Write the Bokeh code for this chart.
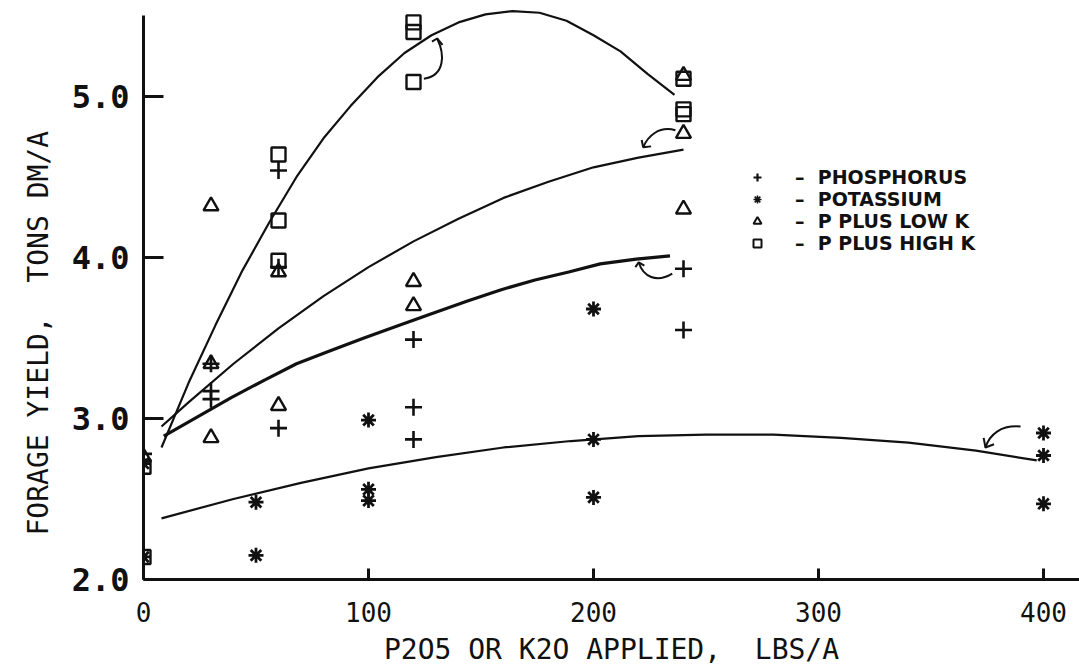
import math
from bokeh.plotting import figure
from bokeh.models import Range1d, FixedTicker, PrintfTickFormatter, Title, Legend, LegendItem
from bokeh.embed import file_html
from bokeh.resources import INLINE

# ---------------- data ----------------
x_ticks = [0, 100, 200, 300, 400]
y_ticks = [2, 3, 4, 5]

phos_x = [0, 30, 30, 30, 60, 60, 60, 120, 120, 120, 240, 240]
phos_y = [2.78, 3.34, 3.17, 3.12, 4.54, 3.94, 2.94, 3.49, 3.07, 2.87, 3.93, 3.55]

pot_x = [0, 0, 50, 50, 100, 100, 100, 200, 200, 200, 400, 400, 400]
pot_y = [2.72, 2.14, 2.48, 2.15, 2.99, 2.56, 2.49, 3.68, 2.87, 2.51, 2.91, 2.77, 2.47]

lowk_x = [0, 30, 30, 30, 60, 60, 120, 120, 240, 240, 240]
lowk_y = [2.76, 4.32, 3.34, 2.88, 3.91, 3.08, 3.85, 3.70, 5.13, 4.77, 4.30]

highk_x = [0, 0, 60, 60, 60, 120, 120, 120, 240, 240, 240]
highk_y = [2.70, 2.14, 4.64, 4.23, 3.98, 5.46, 5.40, 5.09, 5.11, 4.92, 4.89]

# fitted response curves
curve_highk_x = [8, 20, 32, 44, 56, 68, 80, 92, 104, 116, 128, 140, 152, 164, 176, 188, 200, 212, 224, 236]
curve_highk_y = [2.82, 3.22, 3.58, 3.92, 4.22, 4.50, 4.74, 4.94, 5.12, 5.27, 5.38, 5.46, 5.51, 5.53, 5.52, 5.47, 5.38, 5.28, 5.14, 5.01]

curve_lowk_x = [8, 20, 40, 60, 80, 100, 120, 140, 160, 180, 200, 220, 240]
curve_lowk_y = [2.95, 3.10, 3.34, 3.56, 3.76, 3.94, 4.10, 4.24, 4.37, 4.47, 4.56, 4.62, 4.67]

curve_phos_x = [9, 24, 39, 54, 68, 83, 98, 114, 128, 144, 159, 174, 189, 203, 219, 234]
curve_phos_y = [2.89, 3.01, 3.13, 3.24, 3.34, 3.42, 3.50, 3.58, 3.65, 3.73, 3.80, 3.86, 3.91, 3.96, 3.99, 4.01]

curve_pot_x = [8, 40, 70, 100, 130, 160, 190, 220, 250, 280, 310, 340, 370, 397]
curve_pot_y = [2.38, 2.50, 2.60, 2.69, 2.76, 2.82, 2.86, 2.89, 2.90, 2.90, 2.88, 2.85, 2.80, 2.74]

labels = ["PHOSPHORUS", "POTASSIUM", "P PLUS LOW K", "P PLUS HIGH K"]

# ---------------- figure ----------------
p = figure(width=1079, height=672, x_range=Range1d(0, 416), y_range=Range1d(2, 5.596),
           output_backend="svg", toolbar_location=None,
           min_border_left=143, min_border_right=0, min_border_top=0, min_border_bottom=93)
p.outline_line_color = None
p.background_fill_color = "white"
p.border_fill_color = "white"
p.xgrid.visible = False
p.ygrid.visible = False

ink = "#111111"
for ax in (p.xaxis[0], p.yaxis[0]):
    ax.axis_line_width = 3
    ax.axis_line_color = ink
    ax.major_tick_line_width = 3
    ax.major_tick_line_color = ink
    ax.minor_tick_line_color = None
    ax.major_tick_out = 0
    ax.major_label_text_color = ink
    ax.major_label_text_font = "DejaVu Sans Mono"

p.xaxis.ticker = FixedTicker(ticks=x_ticks)
p.yaxis.ticker = FixedTicker(ticks=y_ticks)
p.yaxis.formatter = PrintfTickFormatter(format="%.1f")
p.xaxis.major_tick_in = 11
p.yaxis.major_tick_in = 20
p.yaxis.bounds = (2, 5.5)
p.xaxis.major_label_text_font_size = "26px"
p.xaxis.major_label_standoff = 22
p.yaxis.major_label_text_font_size = "32px"
p.yaxis.major_label_text_font_style = "bold"
p.yaxis.major_label_standoff = 14

p.xaxis.axis_label = "P2O5 OR K2O APPLIED,\u00a0 LBS/A"
p.xaxis.axis_label_text_font = "DejaVu Sans Mono"
p.xaxis.axis_label_text_font_size = "28px"
p.xaxis.axis_label_text_font_style = "normal"
p.xaxis.axis_label_text_color = ink
p.xaxis.axis_label_standoff = 8

ytitle = Title(text="FORAGE YIELD,\u00a0 TONS DM/A", align="left", offset=44, standoff=27,
               text_font="DejaVu Sans Mono", text_font_size="28px", text_font_style="normal",
               text_color=ink)
p.add_layout(ytitle, "left")

# curves
p.line(curve_highk_x, curve_highk_y, line_width=2.2, line_color=ink)
p.line(curve_lowk_x, curve_lowk_y, line_width=2.2, line_color=ink)
p.line(curve_phos_x, curve_phos_y, line_width=3.2, line_color=ink)
p.line(curve_pot_x, curve_pot_y, line_width=2.2, line_color=ink)

# points
p.scatter(phos_x, phos_y, marker="cross", size=17, line_width=2.6, line_color=ink)
p.scatter(pot_x, pot_y, marker="asterisk", size=15, line_width=2.8, line_color=ink)
p.scatter(lowk_x, lowk_y, marker="triangle", size=15, line_width=2.4, line_color=ink, fill_color=None)
p.scatter(highk_x, highk_y, marker="square", size=14, line_width=2.4, line_color=ink, fill_color=None)

# legend-key glyphs (a single NaN row so nothing is drawn in the plot area)
nan = [float("nan")]
lg_p = p.scatter(nan, nan, marker="cross", size=13, line_width=2.2, line_color=ink)
lg_k = p.scatter(nan, nan, marker="asterisk", size=13, line_width=1.6, line_color=ink)
lg_l = p.scatter(nan, nan, marker="triangle", size=12, line_width=2.0, line_color=ink, fill_color=None)
lg_h = p.scatter(nan, nan, marker="square", size=11, line_width=2.0, line_color=ink, fill_color=None)

# curved arrows pointing from points to their curves (annotation geometry)
arrows = [
    # (x0, y0, cx0, cy0, cx1, cy1, x1, y1, head_left, head_right)
    (124.6, 5.11, 134.0, 5.13, 134.0, 5.26, 130.5, 5.36, (128.2, 5.34), (132.9, 5.32)),
    (236.4, 4.79, 229.0, 4.82, 224.0, 4.75, 222.1, 4.685, (221.4, 4.73), (225.6, 4.69)),
    (235.0, 3.90, 228.0, 3.84, 222.0, 3.88, 220.1, 3.97, (218.6, 3.94), (222.6, 3.95)),
    (389.8, 2.95, 381.0, 2.96, 376.0, 2.90, 374.2, 2.82, (373.4, 2.88), (378.0, 2.84)),
]
p.bezier(x0=[a[0] for a in arrows], y0=[a[1] for a in arrows],
         cx0=[a[2] for a in arrows], cy0=[a[3] for a in arrows],
         cx1=[a[4] for a in arrows], cy1=[a[5] for a in arrows],
         x1=[a[6] for a in arrows], y1=[a[7] for a in arrows],
         line_width=2, line_color=ink)
p.multi_line(xs=[[a[8][0], a[6], a[9][0]] for a in arrows],
             ys=[[a[8][1], a[7], a[9][1]] for a in arrows],
             line_width=2, line_color=ink)

legend = Legend(items=[LegendItem(label="\u2013\u00a0 " + labels[0], renderers=[lg_p]),
                       LegendItem(label="\u2013\u00a0 " + labels[1], renderers=[lg_k]),
                       LegendItem(label="\u2013\u00a0 " + labels[2], renderers=[lg_l]),
                       LegendItem(label="\u2013\u00a0 " + labels[3], renderers=[lg_h])],
                location=(601, 325), orientation="vertical")
legend.background_fill_alpha = 0
legend.border_line_color = None
legend.padding = 0
legend.margin = 0
legend.spacing = 0
legend.glyph_width = 26
legend.glyph_height = 20
legend.label_standoff = 25
legend.label_text_font = "DejaVu Sans"
legend.label_text_font_style = "bold"
legend.label_text_font_size = "19px"
legend.label_text_color = ink
legend.label_height = 20
p.add_layout(legend)

open("out.html", "w").write(file_html(p, INLINE))
